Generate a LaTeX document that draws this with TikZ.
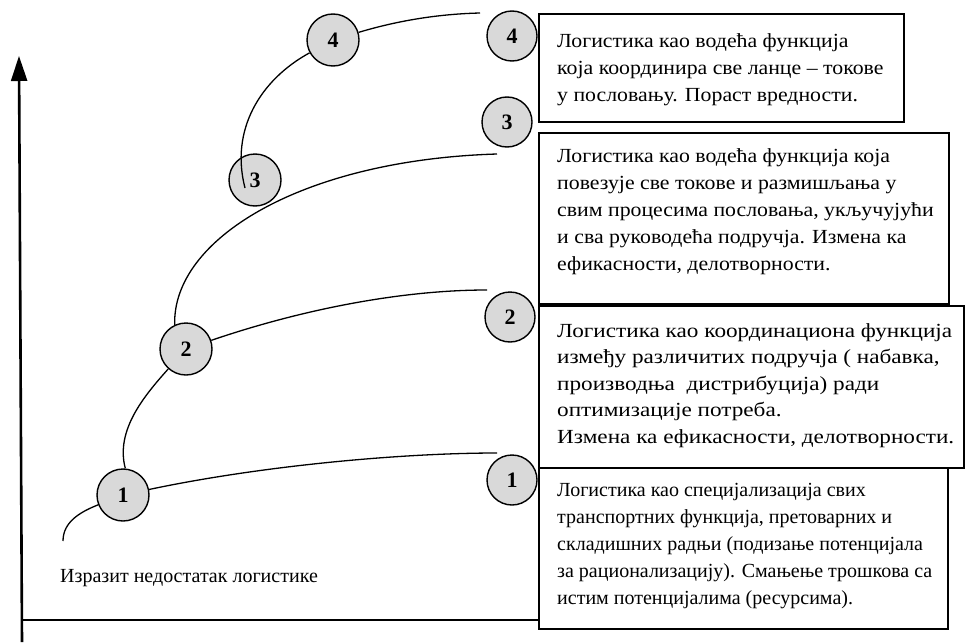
\documentclass[tikz,border=0pt]{standalone}
\usepackage{fontspec}
\setmainfont{Liberation Serif}
\newfontfamily\fontwideA[FakeStretch=1.09]{Liberation Serif}
\newfontfamily\fontwideB[FakeStretch=1.16]{Liberation Serif}
\usetikzlibrary{arrows.meta}
\newcommand\lowdigit[1]{\raisebox{-3pt}{#1}}
\begin{document}
\begin{tikzpicture}[x=1pt,y=-1pt,
  num/.style={circle,draw,line width=1.4pt,fill=gray!30,minimum size=52pt,inner sep=0pt,font=\fontsize{22}{22}\selectfont\bfseries},
  curve/.style={line width=1.3pt},
  axis/.style={line width=2.6pt},
  box/.style={draw,line width=1.6pt,fill=white,inner sep=0pt,anchor=north west},
  txt/.style={align=left,inner sep=0pt,anchor=north west,font=\fontsize{20}{27}\selectfont}]
\useasboundingbox (0,0) rectangle (968,642);
% axes
\coordinate (Ybot) at (22,642);
\coordinate (Ytop) at (19,56);
\coordinate (Xl) at (22,620);
\coordinate (Xr) at (700,620);
\draw[axis] (Xl) -- (Xr);
\draw[axis,-{Triangle[width=16pt,length=25pt]}] (Ybot) -- (Ytop);
% boxes
\node[box,minimum width=365pt,minimum height=108pt] (B4) at (538,13) {};
\node[box,minimum width=410pt,minimum height=171pt] (B3) at (538,132) {};
\node[box,minimum width=425pt,minimum height=162pt] (B2) at (538,305) {};
\node[box,minimum width=409pt,minimum height=161pt] (B1) at (538,467) {};
\node[txt,font=\fontsize{20}{27}\fontwideA] (T4) at (557,33) {Логистика као водећа функција\\која координира све ланце – токове\\у пословању. Пораст вредности.};
\node[txt,font=\fontsize{20}{27}\fontwideA] (T3) at (557,148) {Логистика као водећа функција која\\повезује све токове и размишљања у\\свим процесима пословања, укључујући\\и сва руководећа подручја. Измена ка\\ефикасности, делотворности.};
\node[txt,font=\fontsize{20}{26.5}\fontwideB] (T2) at (557,323) {Логистика као координациона функција\\између различитих подручја ( набавка,\\производња\ \ дистрибуција) ради\\оптимизације потреба.\\Измена ка ефикасности, делотворности.};
\node[txt] (T1) at (557,483) {Логистика као специјализација свих\\транспортних функција, претоварних и\\складишних радњи (подизање потенцијала\\за рационализацију). Смањење трошкова са\\истим потенцијалима (ресурсима).};
\node[inner sep=0pt,anchor=base west,font=\fontsize{20}{27}\selectfont] (lack) at (60,582) {Изразит недостатак логистике};
% circles
\node[num] (L1) at (123,495) {\lowdigit{1}};
\node[num] (L2) at (186,349) {\lowdigit{2}};
\node[num] (L3) at (255,180) {\lowdigit{3}};
\node[num] (L4) at (333,40) {\lowdigit{4}};
\node[num,minimum size=50pt] (R1) at (512,480) {\lowdigit{1}};
\node[num,minimum size=50pt] (R2) at (510,317) {\lowdigit{2}};
\node[num,minimum size=50pt] (R3) at (507,122) {\lowdigit{3}};
\node[num,minimum size=50pt] (R4) at (512,36) {\lowdigit{4}};
% curve ends
\coordinate (a0) at (63,541);
\coordinate (a1) at (497,453);
\coordinate (b1) at (487,290);
\coordinate (c1) at (497,154);
\coordinate (d0) at (245,188);
\coordinate (d1) at (480,13);
% curves
\draw[curve] (a0) .. controls (63,522) and (80,512) .. (L1);
\draw[curve] (L1) .. controls (260,466) and (400,453) .. (a1);
\draw[curve] (L1.85) .. controls (115,430) and (145,395) .. (L2);
\draw[curve] (L2) .. controls (300,310) and (400,290) .. (b1);
\draw[curve] (L2.115) .. controls (172,240) and (300,160) .. (c1);
\draw[curve] (d0) .. controls (230,130) and (260,80) .. (L4);
\draw[curve] (L4) .. controls (400,20) and (440,14) .. (d1);
\end{tikzpicture}
\end{document}
